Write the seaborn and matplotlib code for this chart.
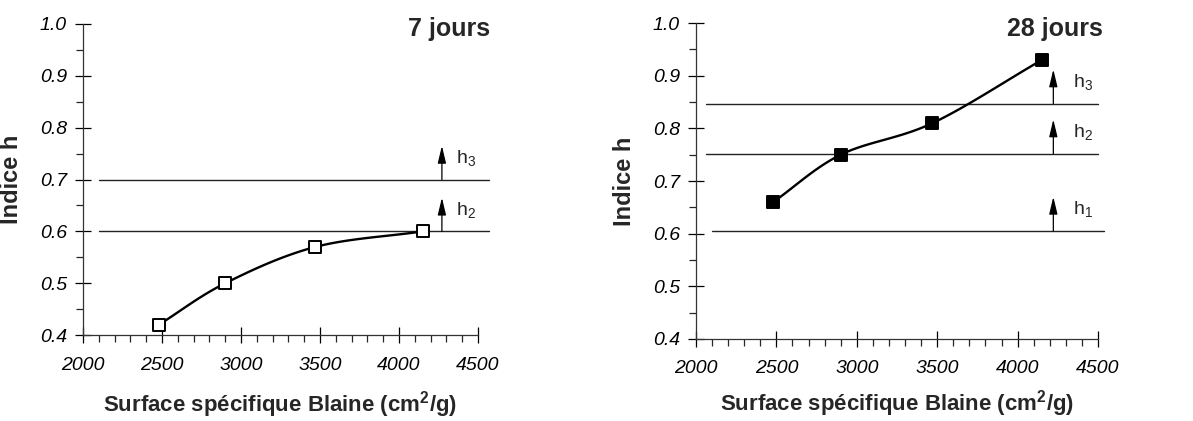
import numpy as np
import pandas as pd
import matplotlib
matplotlib.use("Agg")
import matplotlib.pyplot as plt
import seaborn as sns
from matplotlib.ticker import MultipleLocator

# Données
blaine = [2480, 2900, 3470, 4150]
h_7j = [0.42, 0.50, 0.57, 0.60]
h_28j = [0.66, 0.75, 0.81, 0.93]

# seuils (niveaux h) et libellés
seuils_7j = [0.60, 0.70]
labels_7j = ['2', '3']
seuils_28j = [0.605, 0.752, 0.847]
labels_28j = ['1', '2', '3']

x_ticks = [2000, 2500, 3000, 3500, 4000, 4500]
y_ticks = [0.4, 0.5, 0.6, 0.7, 0.8, 0.9, 1.0]

sns.set_style("ticks")
plt.rcParams['font.family'] = ['Liberation Sans', 'DejaVu Sans']
plt.rcParams['mathtext.fontset'] = 'custom'
plt.rcParams['mathtext.rm'] = 'Liberation Sans'
plt.rcParams['mathtext.bf'] = 'Liberation Sans:bold'


def lissage(x, y, n=40):
    # courbe lissée type Catmull-Rom (comme "ligne lissée" d'Excel)
    x = np.asarray(x, float)
    y = np.asarray(y, float)
    px = np.concatenate([[2 * x[0] - x[1]], x, [2 * x[-1] - x[-2]]])
    py = np.concatenate([[2 * y[0] - y[1]], y, [2 * y[-1] - y[-2]]])
    xs, ys = [], []
    t = np.linspace(0, 1, n)
    for i in range(1, len(px) - 2):
        for p, out in ((px, xs), (py, ys)):
            p0, p1, p2, p3 = p[i - 1], p[i], p[i + 1], p[i + 2]
            out.extend(0.5 * ((2 * p1) + (-p0 + p2) * t
                              + (2 * p0 - 5 * p1 + 4 * p2 - p3) * t ** 2
                              + (-p0 + 3 * p1 - 3 * p2 + p3) * t ** 3))
    return pd.DataFrame({'x': xs, 'y': ys})


fig = plt.figure(figsize=(11.93, 4.21), dpi=100)
ax1 = fig.add_axes([0.0696, 0.204, 0.331, 0.739])
ax2 = fig.add_axes([0.5834, 0.195, 0.337, 0.750])

panneaux = [
    (ax1, h_7j, seuils_7j, labels_7j, 'white', 64, '7 jours', 2100, 4570, 4272, 90, 490, 11),
    (ax2, h_28j, seuils_28j, labels_28j, 'black', 85, '28 jours', 2060, 4500, 4222, 120, 1103, 8),
]

for ax, hv, seuils, labs, fc, ms, titre, x0, x1, xa, dx, xt, lp in panneaux:
    courbe = lissage(blaine, hv)
    sns.lineplot(data=courbe, x='x', y='y', sort=False, color='black', lw=1.7, ax=ax, zorder=3)
    df = pd.DataFrame({'Blaine': blaine, 'h': hv})
    sns.scatterplot(data=df, x='Blaine', y='h', marker='s', s=ms, facecolor=fc,
                    edgecolor='black', linewidth=1.4, ax=ax, zorder=4)
    for i, (s, lab) in enumerate(zip(seuils, labs)):
        fin = x1 + 40 if (titre == '28 jours' and i == 0) else x1
        deb = 2100 if (titre == '28 jours' and i == 0) else x0
        ax.plot([deb, fin], [s, s], color='#222222', lw=1.0, clip_on=False, zorder=2)
        ax.annotate('', xy=(xa, s + 0.065), xytext=(xa, s),
                    arrowprops=dict(arrowstyle='-|>,head_width=0.18,head_length=0.75',
                                    color='black', lw=0.9,
                                    mutation_scale=14, shrinkA=0, shrinkB=0))
        ax.text(xa + dx, s + 0.04, r'$\mathrm{h}_{' + lab + '}$', fontsize=14,
                ha='left', va='center')

    ax.set_xlim(2000, 4500)
    ax.set_ylim(0.4, 1.0)
    ax.set_xticks(x_ticks)
    ax.set_xticklabels([str(v) for v in x_ticks])
    ax.set_yticks(y_ticks)
    ax.set_yticklabels([f'{v:.1f}' for v in y_ticks])
    ax.xaxis.set_minor_locator(MultipleLocator(100))
    ax.yaxis.set_minor_locator(MultipleLocator(0.05))
    ax.tick_params(axis='both', which='major', direction='inout', length=11,
                   width=0.9, labelsize=14, colors='black')
    ax.tick_params(axis='x', which='major', pad=10)
    ax.tick_params(axis='y', which='major', pad=6)
    ax.tick_params(axis='both', which='minor', direction='out', length=5, width=0.9)
    for lbl in ax.get_xticklabels() + ax.get_yticklabels():
        lbl.set_fontstyle('italic')
    sns.despine(ax=ax)
    for sp in ('left', 'bottom'):
        ax.spines[sp].set_linewidth(0.9)
        ax.spines[sp].set_color('#333333')
    ax.set_xlabel(r'Surface spécifique Blaine (cm$^\mathbf{2}$/g)', fontsize=16,
                  fontweight='bold', labelpad=lp)
    ax.set_ylabel('Indice h', fontsize=17, fontweight='bold', labelpad=12)
    fig.text(xt / 1193, 1 - 17 / 421, titre, ha='right', va='top',
             fontsize=18, fontweight='bold')

fig.savefig('out.png', dpi=100)
